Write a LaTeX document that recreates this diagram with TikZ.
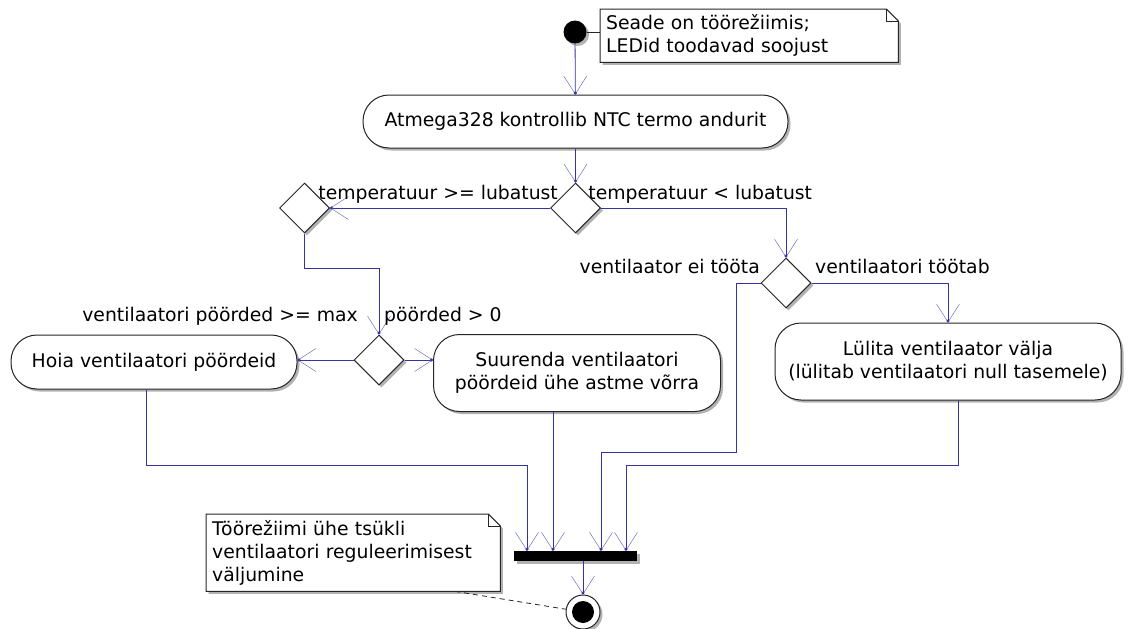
\documentclass[tikz,border=0pt]{standalone}
\usepackage{fontspec}
\setmainfont{DejaVu Sans}
\usetikzlibrary{
  arrows.meta,
  backgrounds,
  shadows,
  shapes.geometric,
  positioning
}
\definecolor{flowblue}{RGB}{52,52,160}
\tikzset{
  % For the soft shadow under every box.
  boxshadow/.style={
    drop shadow={shadow xshift=2.5pt, shadow yshift=-2.5pt,
                 opacity=0.3, fill=black}},
%
  % For actions.
  action/.style={
    draw=black!85,
    line width=1pt,
    fill=white,
    rounded corners=26pt,
    align=center,
    inner sep=0pt,
    boxshadow},
%
  % For decisions.
  decision/.style={
    diamond,
    draw=black!85,
    line width=1pt,
    fill=white,
    minimum width=50pt,
    minimum height=50pt,
    inner sep=0pt,
    boxshadow},
%
  % For the start and the end.
  startdot/.style={
    circle,
    fill=black,
    minimum size=23pt,
    inner sep=0pt,
    boxshadow},
  enddot/.style={
    circle,
    draw=black!85,
    line width=1pt,
    fill=white,
    minimum size=34pt,
    inner sep=0pt,
    boxshadow},
%
  % For the join bar.
  joinbar/.style={
    fill=black,
    minimum width=123pt,
    minimum height=10pt,
    inner sep=0pt,
    boxshadow},
%
  % For note texts and their outlines.
  notetext/.style={
    align=left,
    inner xsep=6pt,
    inner ysep=4pt},
  noteline/.style={
    draw=black!85,
    line width=1pt,
    fill=white,
    boxshadow},
%
  % For connectors.
  flow/.style={
    draw=flowblue,
    line width=0.8pt,
    -{Straight Barb[length=18pt, width=23pt, line width=0.5pt,
                    color=flowblue!70, sep=-3pt]
      Circle[length=3pt, color=flowblue]}},
%
  % For branch conditions.
  guard/.style={
    inner sep=0pt},
}

\begin{document}
\begin{tikzpicture}[x=1pt, y=-1pt, font=\fontsize{18.8}{23}\selectfont]
  \useasboundingbox (0,0) rectangle (1128,629);

  \node[startdot] (start) at (575,32) {};
  \node[notetext, anchor=north west, text width=286pt,
        minimum height=53pt] (note1) at (600,9)
    {Seade on töörežiimis;\\LEDid toodavad soojust};

  \node[action, minimum width=425pt, minimum height=53pt] (check)
    at (575.5,121.5) {Atmega328 kontrollib NTC termo andurit};

  \node[decision] (temp) at (575.5,208) {};
  \node[decision] (limit) at (304.5,208) {};
  \node[decision] (fan) at (786,283) {};
  \node[decision] (speed) at (379,360) {};

  \node[action, minimum width=286pt, minimum height=54pt] (hold)
    at (154,362) {Hoia ventilaatori pöördeid};
  \node[action, minimum width=287pt, minimum height=77pt] (raise)
    at (577,373) {Suurenda ventilaatori\\pöördeid ühe astme võrra};
  \node[action, minimum width=346pt, minimum height=77pt] (stop)
    at (948,361.5) {Lülita ventilaator välja\\(lülitab ventilaatori null tasemele)};

  \node[joinbar] (join) at (575.5,556) {};
  \node[enddot] (end) at (583,612) {};
  \fill (end.center) circle (11pt);

  \node[notetext, anchor=north west, text width=282pt,
        minimum height=77pt] (note2) at (206,514)
    {Töörežiimi ühe tsükli\\ventilaatori reguleerimisest\\väljumine};

  % note outlines with a folded corner
  \begin{scope}[on background layer]
    \draw[noteline] (note1.north west) -- ([xshift=-12pt]note1.north east)
      -- ([yshift=-12pt]note1.north east) -- (note1.south east)
      -- (note1.south west) -- cycle;
    \draw[noteline] (note2.north west) -- ([xshift=-12pt]note2.north east)
      -- ([yshift=-12pt]note2.north east) -- (note2.south east)
      -- (note2.south west) -- cycle;
  \end{scope}
  \draw[black!85, line width=1pt] ([xshift=-12pt]note1.north east)
    |- ([yshift=-12pt]note1.north east);
  \draw[black!85, line width=1pt] ([xshift=-12pt]note2.north east)
    |- ([yshift=-12pt]note2.north east);

  \draw[black!85, line width=1pt] (start.east) -- (start.east -| note1.west);
  \draw[black!85, line width=0.8pt, dash pattern=on 5pt off 4pt]
    ([xshift=102pt]note2.south) -- (end);

  \draw[flow] (start) -- (check);
  \draw[flow] (check) -- (temp);

  \draw[flow] (temp.west) -- (limit.east)
    node[guard, anchor=base west] at (318,199) {temperatuur >= lubatust};
  \draw[flow] (temp.east) -| (fan.north)
    node[guard, anchor=base west] at (588,199) {temperatuur < lubatust};

  \draw[flow] (limit.south) -- ++(0,35) -| (speed.north);
  \node[guard, anchor=base east] (maxlabel) at (358,321)
    {ventilaatori pöörded >= max};
  \node[guard, anchor=base west] (uplabel) at (384,321) {pöörded > 0};
  \draw[flow] (speed.west) -- (speed.west -| hold.east);
  \draw[flow] (speed.east) -- (speed.east -| raise.west);

  \node[guard, anchor=base east] (offlabel) at (760,273) {ventilaator ei tööta};
  \node[guard, anchor=base west] (onlabel) at (815,273) {ventilaatori töötab};
  \draw[flow] (fan.east) -| (stop.north);
  \draw[flow] (fan.west) -- ++(-24,0) -- ++(0,169)
    -| ([xshift=25.5pt]join.north);

  \draw[flow] ([xshift=-8pt]hold.south) -- ++(0,76)
    -| ([xshift=-48.5pt]join.north);
  \draw[flow] ([xshift=-24pt]raise.south)
    -- ([xshift=-24pt]raise.south |- join.north);
  \draw[flow] ([xshift=10pt]stop.south) -- ++(0,65)
    -| ([xshift=50.5pt]join.north);

  \draw[flow] (join.south -| end) -- (end);
\end{tikzpicture}
\end{document}
